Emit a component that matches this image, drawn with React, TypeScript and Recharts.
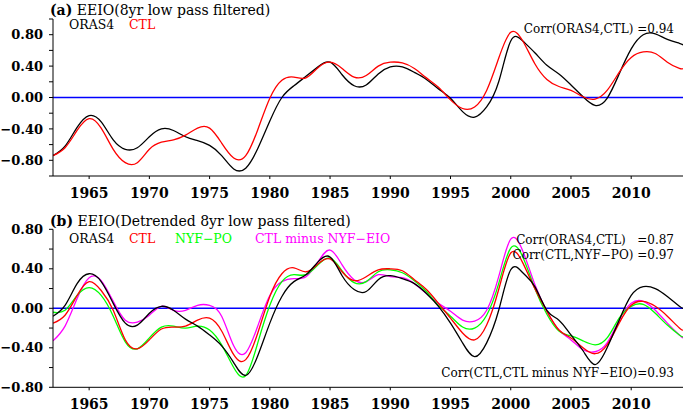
import { LineChart, Line, XAxis, YAxis, ReferenceLine } from "recharts"

// yearly samples (last point is the right edge of the axis)
const years = [
  1962, 1963, 1964, 1965, 1966, 1967, 1968, 1969, 1970, 1971, 1972, 1973, 1974, 1975, 1976, 1977, 1978, 1979,
  1980, 1981, 1982, 1983, 1984, 1985, 1986, 1987, 1988, 1989, 1990, 1991, 1992, 1993, 1994, 1995, 1996, 1997,
  1998, 1999, 2000, 2001, 2002, 2003, 2004, 2005, 2006, 2007, 2008, 2009, 2010, 2011, 2012, 2013, 2014, 2014.3,
]

// panel (a) EEIO 8yr low pass filtered
const orasA = [
  -0.74, -0.62, -0.38, -0.23, -0.31, -0.54, -0.66, -0.64, -0.5, -0.4, -0.42, -0.5, -0.55, -0.61, -0.74, -0.91, -0.9, -0.65,
  -0.3, 0.0, 0.15, 0.27, 0.39, 0.45, 0.29, 0.15, 0.16, 0.3, 0.39, 0.39, 0.32, 0.23, 0.11, -0.01, -0.18, -0.25,
  -0.12, 0.2, 0.72, 0.72, 0.57, 0.41, 0.3, 0.16, 0.01, -0.1, -0.01, 0.3, 0.62, 0.8, 0.81, 0.74, 0.69, 0.67,
]
const ctlA = [
  -0.74, -0.64, -0.42, -0.27, -0.39, -0.66, -0.83, -0.83, -0.66, -0.57, -0.54, -0.48, -0.39, -0.39, -0.58, -0.77, -0.74, -0.41,
  -0.01, 0.22, 0.26, 0.25, 0.38, 0.45, 0.37, 0.26, 0.28, 0.4, 0.45, 0.44, 0.37, 0.25, 0.13, -0.03, -0.14, -0.12,
  0.09, 0.5, 0.83, 0.72, 0.43, 0.23, 0.14, 0.09, 0.01, -0.02, 0.09, 0.32, 0.51, 0.58, 0.56, 0.45, 0.37, 0.37,
]

// panel (b) detrended
const orasB = [
  -0.08, 0.03, 0.25, 0.35, 0.27, 0.05, -0.15, -0.17, -0.05, 0.02, -0.02, -0.11, -0.18, -0.27, -0.38, -0.55, -0.68, -0.48,
  -0.15, 0.12, 0.27, 0.34, 0.47, 0.52, 0.33, 0.19, 0.17, 0.29, 0.33, 0.3, 0.25, 0.15, 0.02, -0.15, -0.35, -0.49,
  -0.35, -0.02, 0.39, 0.36, 0.22, -0.02, -0.12, -0.27, -0.43, -0.57, -0.4, -0.12, 0.13, 0.22, 0.2, 0.12, 0.02, 0.0,
]
const ctlB = [
  -0.15, -0.07, 0.13, 0.27, 0.18, -0.02, -0.32, -0.41, -0.32, -0.21, -0.19, -0.18, -0.12, -0.1, -0.23, -0.47, -0.52, -0.25,
  0.12, 0.35, 0.41, 0.37, 0.45, 0.5, 0.37, 0.28, 0.32, 0.39, 0.4, 0.38, 0.29, 0.19, 0.05, -0.1, -0.25, -0.32,
  -0.17, 0.19, 0.56, 0.46, 0.2, -0.03, -0.22, -0.3, -0.4, -0.46, -0.37, -0.15, 0.03, 0.07, 0.02, -0.08, -0.2, -0.22,
]
const nyfPoB = [
  -0.04, -0.02, 0.13, 0.21, 0.13, -0.08, -0.34, -0.41, -0.3, -0.19, -0.18, -0.2, -0.18, -0.22, -0.37, -0.6, -0.68, -0.35,
  0.03, 0.27, 0.34, 0.34, 0.44, 0.51, 0.38, 0.26, 0.27, 0.37, 0.39, 0.36, 0.28, 0.17, 0.03, -0.08, -0.19, -0.2,
  -0.07, 0.25, 0.61, 0.52, 0.2, -0.06, -0.23, -0.28, -0.33, -0.37, -0.3, -0.1, 0.02, 0.04, -0.05, -0.17, -0.27, -0.29,
]
const ctlMinusEioB = [
  -0.33, -0.18, 0.1, 0.31, 0.28, 0.07, -0.12, -0.14, -0.07, 0.02, -0.02, -0.02, 0.03, 0.03, -0.08, -0.38, -0.45, -0.18,
  0.13, 0.27, 0.3, 0.32, 0.47, 0.59, 0.44, 0.29, 0.27, 0.34, 0.32, 0.31, 0.25, 0.15, 0.05, -0.03, -0.12, -0.13,
  -0.02, 0.32, 0.7, 0.58, 0.24, -0.03, -0.22, -0.32, -0.42, -0.44, -0.35, -0.12, 0.05, 0.07, -0.02, -0.15, -0.27, -0.3,
]

const xTicks = [1965, 1970, 1975, 1980, 1985, 1990, 1995, 2000, 2005, 2010]
const yTicksA = [-1, -0.8, -0.6, -0.4, -0.2, 0, 0.2, 0.4, 0.6, 0.8, 1]
const yTicksB = [-0.8, -0.6, -0.4, -0.2, 0, 0.2, 0.4, 0.6, 0.8]

const serif = "'DejaVu Serif', serif"

const rows = (cols: Record<string, number[]>) =>
  years.map((year, i) => {
    const r: Record<string, number> = { year }
    for (const k in cols) r[k] = cols[k][i]
    return r
  })

const dataA = rows({ oras: orasA, ctl: ctlA })
const dataB = rows({ oras: orasB, ctl: ctlB, nyf: nyfPoB, mag: ctlMinusEioB })

// only every 0.4 gets a label, the 0.2 ticks are minor
const fmtY = (v: number) => {
  const c = Math.round(v * 100)
  if (c % 40 !== 0 || Math.abs(c) > 80) return ""
  return (c < 0 ? "\u2212" : "") + Math.abs(v).toFixed(2)
}

const NoTick = () => <g />

interface Series {
  key: string
  color: string
}

function Panel({ data, series, domain, ticks, height, top, axisH }: {
  data: any[]
  series: Series[]
  domain: [number, number]
  ticks: number[]
  height: number
  top: number
  axisH: number
}) {
  return (
    <LineChart width={685} height={height} data={data} margin={{ top, right: 2, bottom: 0, left: 0 }}>
      <XAxis
        dataKey="year"
        type="number"
        domain={[1962, 2014.3]}
        ticks={xTicks}
        interval={0}
        allowDataOverflow
        height={axisH}
        tickSize={3}
        tickMargin={9}
        stroke="#000"
        tick={{ fill: "#000", fontSize: 14, fontWeight: "bold", fontFamily: serif }}
      />
      <XAxis
        xAxisId="top"
        orientation="top"
        dataKey="year"
        type="number"
        domain={[1962, 2014.3]}
        ticks={xTicks}
        interval={0}
        allowDataOverflow
        height={0}
        tickSize={4}
        stroke="#000"
        tick={NoTick}
      />
      <YAxis
        domain={domain}
        ticks={ticks}
        interval={0}
        allowDataOverflow
        width={53}
        tickSize={4}
        tickMargin={6}
        stroke="#000"
        tickFormatter={fmtY}
        tick={{ fill: "#000", fontSize: 13, fontWeight: "bold", fontFamily: serif }}
      />
      <YAxis
        yAxisId="right"
        orientation="right"
        mirror
        domain={domain}
        ticks={ticks}
        interval={0}
        allowDataOverflow
        width={0}
        tickSize={4}
        stroke="#000"
        tick={NoTick}
      />
      <ReferenceLine y={0} stroke="#0000ff" strokeWidth={1.5} />
      {series.map((s) => (
        <Line
          key={s.key}
          dataKey={s.key}
          type="natural"
          stroke={s.color}
          strokeWidth={1.3}
          dot={false}
          isAnimationActive={false}
        />
      ))}
    </LineChart>
  )
}

const txt = (extra: React.CSSProperties): React.CSSProperties => ({
  position: "absolute",
  fontFamily: serif,
  fontSize: 12.5,
  lineHeight: "14px",
  whiteSpace: "pre",
  color: "#000",
  ...extra,
})

export default function App() {
  return (
    <div style={{ position: "absolute", left: 0, top: 0, width: 685, height: 413, background: "#fff" }}>
      <div style={{ position: "absolute", left: 0, top: 0 }}>
        <Panel
          data={dataA}
          series={[
            { key: "oras", color: "#000000" },
            { key: "ctl", color: "#ff0000" },
          ]}
          domain={[-1, 1]}
          ticks={yTicksA}
          height={200}
          top={19}
          axisH={24}
        />
      </div>
      <div style={{ position: "absolute", left: 0, top: 200 }}>
        <Panel
          data={dataB}
          series={[
            { key: "mag", color: "#ff00ff" },
            { key: "nyf", color: "#00ff00" },
            { key: "ctl", color: "#ff0000" },
            { key: "oras", color: "#000000" },
          ]}
          domain={[-0.8, 0.8]}
          ticks={yTicksB}
          height={213}
          top={29.3}
          axisH={25.7}
        />
      </div>

      <div style={txt({ left: 50, top: 2.5, fontSize: 14 })}>
        <b>(a)</b> EEIO(8yr low pass filtered)
      </div>
      <div style={txt({ left: 69, top: 18 })}>ORAS4</div>
      <div style={txt({ left: 129, top: 18, color: "#ff0000" })}>CTL</div>
      <div style={txt({ right: 11, top: 22, fontSize: 12 })}>Corr(ORAS4,CTL) =0.94</div>

      <div style={txt({ left: 50, top: 213.5, fontSize: 14 })}>
        <b>(b)</b> EEIO(Detrended 8yr low pass filtered)
      </div>
      <div style={txt({ left: 69, top: 232 })}>ORAS4</div>
      <div style={txt({ left: 129, top: 232, color: "#ff0000" })}>CTL</div>
      <div style={txt({ left: 175, top: 232, color: "#00ff00" })}>NYF{"\u2212"}PO</div>
      <div style={txt({ left: 255, top: 232, color: "#ff00ff" })}>CTL minus NYF{"\u2212"}EIO</div>
      <div style={txt({ right: 11, top: 233, fontSize: 12 })}>Corr(ORAS4,CTL)   =0.87</div>
      <div style={txt({ right: 11, top: 248, fontSize: 12 })}>Corr(CTL,NYF{"\u2212"}PO) =0.97</div>
      <div style={txt({ right: 11, top: 366, fontSize: 12 })}>Corr(CTL,CTL minus NYF{"\u2212"}EIO)=0.93</div>
    </div>
  )
}
